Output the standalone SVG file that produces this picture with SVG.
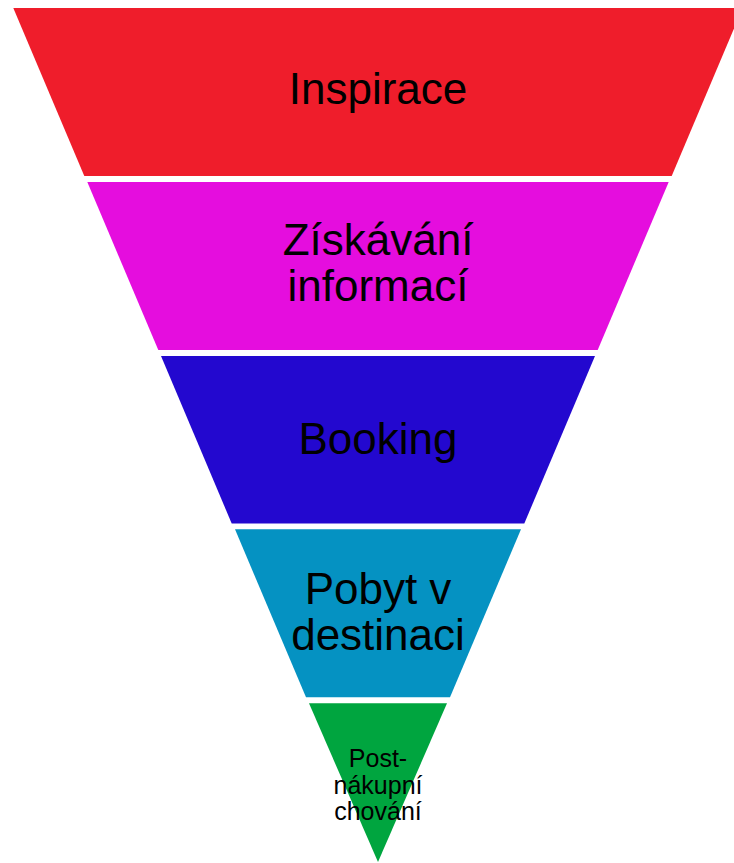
<svg xmlns="http://www.w3.org/2000/svg" width="734" height="863" viewBox="0 0 734 863">
<style>
.lbl{font-family:"Liberation Sans",Arial,sans-serif;fill:#000;text-anchor:middle}
.big{font-size:44px}
.small{font-size:25px}
</style>
<rect width="734" height="863" fill="#fff"/>
<g id="inspirace">
<polygon points="13.3,8 742.7,8 671.7,176 84.3,176" fill="#EF1D2B"/>
<text class="lbl big" x="378" y="104">Inspirace</text>
</g>
<g id="ziskavani">
<polygon points="87.3,182 668.7,182 597.7,350 158.3,350" fill="#E50DDE"/>
<text class="lbl big" x="378" y="255">Získávání</text>
<text class="lbl big" x="378" y="301">informací</text>
</g>
<g id="booking">
<polygon points="161,356 595,356 524.3,523.5 231.7,523.5" fill="#2308CF"/>
<text class="lbl big" x="378" y="454">Booking</text>
</g>
<g id="pobyt">
<polygon points="235,529.3 521,529.3 450,697.3 306,697.3" fill="#0592C2"/>
<text class="lbl big" x="378" y="604">Pobyt v</text>
<text class="lbl big" x="378" y="650">destinaci</text>
</g>
<g id="post">
<polygon points="309,703.3 447,703.3 378,862" fill="#00A53F"/>
<text class="lbl small" x="378" y="767">Post-</text>
<text class="lbl small" x="378" y="793.5">nákupní</text>
<text class="lbl small" x="378" y="820">chování</text>
</g>
<g id="connectors"></g>
</svg>
